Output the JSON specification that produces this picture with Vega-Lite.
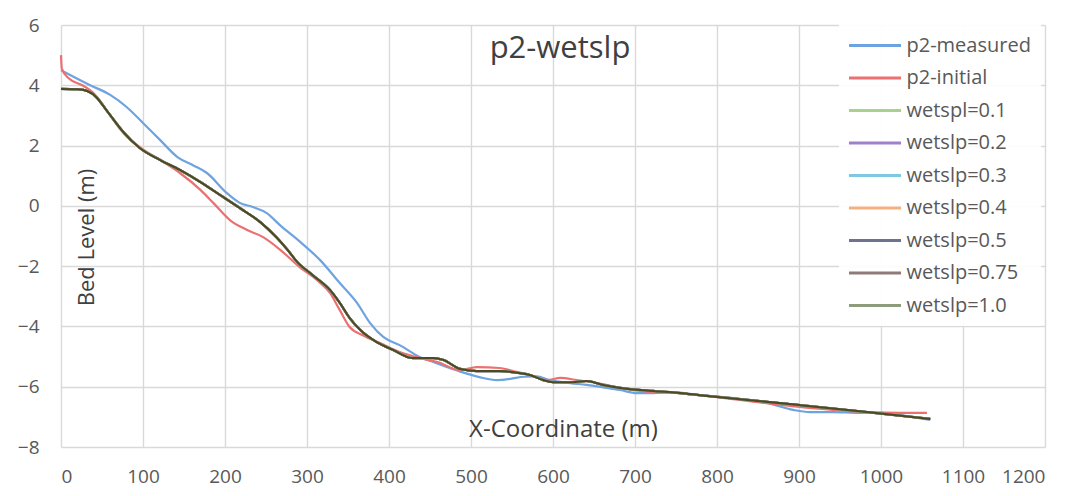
{
 "$schema": "https://vega.github.io/schema/vega-lite/v6.json",
 "width": 984, "height": 422,
 "autosize": {"type": "none"},
 "padding": {"left": 61, "top": 25, "right": 34, "bottom": 49},
 "background": "white",
 "title": {"text": "p2-wetslp", "anchor": "middle", "frame": "group", "baseline": "middle", "offset": 0, "dy": 64, "dx": 7, "fontSize": 31, "fontWeight": "normal", "color": "#404040", "font": "Open Sans"},
 "config": {"view": {"stroke": null}, "font": "Open Sans"},
 "datasets": {
  "curves": [
   {"series":"p2-measured","x":0,"y":4.5},{"series":"p2-measured","x":35,"y":4.01},{"series":"p2-measured","x":60,"y":3.68},{"series":"p2-measured","x":80,"y":3.28},{"series":"p2-measured","x":100,"y":2.75},{"series":"p2-measured","x":121,"y":2.18},{"series":"p2-measured","x":142,"y":1.62},{"series":"p2-measured","x":161,"y":1.35},{"series":"p2-measured","x":178,"y":1.09},{"series":"p2-measured","x":202,"y":0.43},{"series":"p2-measured","x":218,"y":0.1},{"series":"p2-measured","x":234,"y":-0.04},{"series":"p2-measured","x":251,"y":-0.24},{"series":"p2-measured","x":267,"y":-0.64},{"series":"p2-measured","x":291,"y":-1.18},{"series":"p2-measured","x":316,"y":-1.8},{"series":"p2-measured","x":340,"y":-2.56},{"series":"p2-measured","x":361,"y":-3.22},{"series":"p2-measured","x":377,"y":-3.89},{"series":"p2-measured","x":393,"y":-4.35},{"series":"p2-measured","x":413,"y":-4.62},{"series":"p2-measured","x":438,"y":-5.02},{"series":"p2-measured","x":454,"y":-5.18},{"series":"p2-measured","x":471,"y":-5.35},{"series":"p2-measured","x":487,"y":-5.5},{"series":"p2-measured","x":510,"y":-5.68},{"series":"p2-measured","x":532,"y":-5.78},{"series":"p2-measured","x":548,"y":-5.74},{"series":"p2-measured","x":565,"y":-5.67},{"series":"p2-measured","x":580,"y":-5.66},{"series":"p2-measured","x":596,"y":-5.78},{"series":"p2-measured","x":621,"y":-5.88},{"series":"p2-measured","x":641,"y":-5.94},{"series":"p2-measured","x":666,"y":-6.04},{"series":"p2-measured","x":682,"y":-6.11},{"series":"p2-measured","x":702,"y":-6.21},{"series":"p2-measured","x":722,"y":-6.21},{"series":"p2-measured","x":746,"y":-6.18},{"series":"p2-measured","x":779,"y":-6.28},{"series":"p2-measured","x":820,"y":-6.38},{"series":"p2-measured","x":861,"y":-6.54},{"series":"p2-measured","x":893,"y":-6.77},{"series":"p2-measured","x":913,"y":-6.84},{"series":"p2-measured","x":941,"y":-6.84},{"series":"p2-measured","x":974,"y":-6.87},{"series":"p2-measured","x":999,"y":-6.87},{"series":"p2-measured","x":1023,"y":-6.94},{"series":"p2-measured","x":1060,"y":-7.1},
   {"series":"p2-initial","x":0,"y":5.0},{"series":"p2-initial","x":1,"y":4.55},{"series":"p2-initial","x":9,"y":4.24},{"series":"p2-initial","x":26,"y":4.0},{"series":"p2-initial","x":38,"y":3.78},{"series":"p2-initial","x":50,"y":3.4},{"series":"p2-initial","x":60,"y":3.0},{"series":"p2-initial","x":76,"y":2.42},{"series":"p2-initial","x":96,"y":1.95},{"series":"p2-initial","x":121,"y":1.52},{"series":"p2-initial","x":145,"y":1.09},{"series":"p2-initial","x":170,"y":0.53},{"series":"p2-initial","x":186,"y":0.09},{"series":"p2-initial","x":206,"y":-0.47},{"series":"p2-initial","x":227,"y":-0.8},{"series":"p2-initial","x":246,"y":-1.03},{"series":"p2-initial","x":267,"y":-1.45},{"series":"p2-initial","x":291,"y":-2.03},{"series":"p2-initial","x":312,"y":-2.46},{"series":"p2-initial","x":328,"y":-2.89},{"series":"p2-initial","x":340,"y":-3.46},{"series":"p2-initial","x":352,"y":-4.02},{"series":"p2-initial","x":368,"y":-4.29},{"series":"p2-initial","x":389,"y":-4.55},{"series":"p2-initial","x":413,"y":-4.85},{"series":"p2-initial","x":438,"y":-5.05},{"series":"p2-initial","x":459,"y":-5.18},{"series":"p2-initial","x":487,"y":-5.45},{"series":"p2-initial","x":507,"y":-5.35},{"series":"p2-initial","x":535,"y":-5.38},{"series":"p2-initial","x":556,"y":-5.51},{"series":"p2-initial","x":572,"y":-5.61},{"series":"p2-initial","x":593,"y":-5.78},{"series":"p2-initial","x":609,"y":-5.71},{"series":"p2-initial","x":629,"y":-5.78},{"series":"p2-initial","x":654,"y":-5.88},{"series":"p2-initial","x":682,"y":-6.04},{"series":"p2-initial","x":722,"y":-6.18},{"series":"p2-initial","x":755,"y":-6.21},{"series":"p2-initial","x":779,"y":-6.28},{"series":"p2-initial","x":901,"y":-6.67},{"series":"p2-initial","x":983,"y":-6.84},{"series":"p2-initial","x":1056,"y":-6.87},
   {"series":"wetspl=0.1","x":0,"y":3.88},{"series":"wetspl=0.1","x":20,"y":3.87},{"series":"wetspl=0.1","x":32,"y":3.81},{"series":"wetspl=0.1","x":44,"y":3.58},{"series":"wetspl=0.1","x":52,"y":3.3},{"series":"wetspl=0.1","x":60,"y":3.01},{"series":"wetspl=0.1","x":76,"y":2.45},{"series":"wetspl=0.1","x":96,"y":1.92},{"series":"wetspl=0.1","x":121,"y":1.52},{"series":"wetspl=0.1","x":145,"y":1.19},{"series":"wetspl=0.1","x":170,"y":0.79},{"series":"wetspl=0.1","x":194,"y":0.36},{"series":"wetspl=0.1","x":218,"y":-0.07},{"series":"wetspl=0.1","x":243,"y":-0.54},{"series":"wetspl=0.1","x":263,"y":-1.05},{"series":"wetspl=0.1","x":276,"y":-1.45},{"series":"wetspl=0.1","x":288,"y":-1.86},{"series":"wetspl=0.1","x":307,"y":-2.3},{"series":"wetspl=0.1","x":328,"y":-2.79},{"series":"wetspl=0.1","x":340,"y":-3.22},{"series":"wetspl=0.1","x":352,"y":-3.72},{"series":"wetspl=0.1","x":365,"y":-4.12},{"series":"wetspl=0.1","x":385,"y":-4.52},{"series":"wetspl=0.1","x":405,"y":-4.78},{"series":"wetspl=0.1","x":429,"y":-5.05},{"series":"wetspl=0.1","x":454,"y":-5.05},{"series":"wetspl=0.1","x":466,"y":-5.11},{"series":"wetspl=0.1","x":487,"y":-5.41},{"series":"wetspl=0.1","x":507,"y":-5.48},{"series":"wetspl=0.1","x":535,"y":-5.48},{"series":"wetspl=0.1","x":560,"y":-5.55},{"series":"wetspl=0.1","x":572,"y":-5.61},{"series":"wetspl=0.1","x":588,"y":-5.78},{"series":"wetspl=0.1","x":600,"y":-5.85},{"series":"wetspl=0.1","x":624,"y":-5.85},{"series":"wetspl=0.1","x":641,"y":-5.81},{"series":"wetspl=0.1","x":661,"y":-5.94},{"series":"wetspl=0.1","x":682,"y":-6.04},{"series":"wetspl=0.1","x":722,"y":-6.14},{"series":"wetspl=0.1","x":755,"y":-6.21},{"series":"wetspl=0.1","x":779,"y":-6.28},{"series":"wetspl=0.1","x":901,"y":-6.61},{"series":"wetspl=0.1","x":983,"y":-6.84},{"series":"wetspl=0.1","x":1060,"y":-7.07},
   {"series":"wetslp=0.2","x":0,"y":3.88},{"series":"wetslp=0.2","x":20,"y":3.87},{"series":"wetslp=0.2","x":32,"y":3.81},{"series":"wetslp=0.2","x":44,"y":3.58},{"series":"wetslp=0.2","x":52,"y":3.3},{"series":"wetslp=0.2","x":60,"y":3.01},{"series":"wetslp=0.2","x":76,"y":2.45},{"series":"wetslp=0.2","x":96,"y":1.92},{"series":"wetslp=0.2","x":121,"y":1.52},{"series":"wetslp=0.2","x":145,"y":1.19},{"series":"wetslp=0.2","x":170,"y":0.79},{"series":"wetslp=0.2","x":194,"y":0.36},{"series":"wetslp=0.2","x":218,"y":-0.07},{"series":"wetslp=0.2","x":243,"y":-0.54},{"series":"wetslp=0.2","x":263,"y":-1.05},{"series":"wetslp=0.2","x":276,"y":-1.45},{"series":"wetslp=0.2","x":288,"y":-1.86},{"series":"wetslp=0.2","x":307,"y":-2.3},{"series":"wetslp=0.2","x":328,"y":-2.79},{"series":"wetslp=0.2","x":340,"y":-3.22},{"series":"wetslp=0.2","x":352,"y":-3.72},{"series":"wetslp=0.2","x":365,"y":-4.12},{"series":"wetslp=0.2","x":385,"y":-4.52},{"series":"wetslp=0.2","x":405,"y":-4.78},{"series":"wetslp=0.2","x":429,"y":-5.05},{"series":"wetslp=0.2","x":454,"y":-5.05},{"series":"wetslp=0.2","x":466,"y":-5.11},{"series":"wetslp=0.2","x":487,"y":-5.41},{"series":"wetslp=0.2","x":507,"y":-5.48},{"series":"wetslp=0.2","x":535,"y":-5.48},{"series":"wetslp=0.2","x":560,"y":-5.55},{"series":"wetslp=0.2","x":572,"y":-5.61},{"series":"wetslp=0.2","x":588,"y":-5.78},{"series":"wetslp=0.2","x":600,"y":-5.85},{"series":"wetslp=0.2","x":624,"y":-5.85},{"series":"wetslp=0.2","x":641,"y":-5.81},{"series":"wetslp=0.2","x":661,"y":-5.94},{"series":"wetslp=0.2","x":682,"y":-6.04},{"series":"wetslp=0.2","x":722,"y":-6.14},{"series":"wetslp=0.2","x":755,"y":-6.21},{"series":"wetslp=0.2","x":779,"y":-6.28},{"series":"wetslp=0.2","x":901,"y":-6.61},{"series":"wetslp=0.2","x":983,"y":-6.84},{"series":"wetslp=0.2","x":1060,"y":-7.07},
   {"series":"wetslp=0.3","x":0,"y":3.88},{"series":"wetslp=0.3","x":20,"y":3.87},{"series":"wetslp=0.3","x":32,"y":3.81},{"series":"wetslp=0.3","x":44,"y":3.58},{"series":"wetslp=0.3","x":52,"y":3.3},{"series":"wetslp=0.3","x":60,"y":3.01},{"series":"wetslp=0.3","x":76,"y":2.45},{"series":"wetslp=0.3","x":96,"y":1.92},{"series":"wetslp=0.3","x":121,"y":1.52},{"series":"wetslp=0.3","x":145,"y":1.19},{"series":"wetslp=0.3","x":170,"y":0.79},{"series":"wetslp=0.3","x":194,"y":0.36},{"series":"wetslp=0.3","x":218,"y":-0.07},{"series":"wetslp=0.3","x":243,"y":-0.54},{"series":"wetslp=0.3","x":263,"y":-1.05},{"series":"wetslp=0.3","x":276,"y":-1.45},{"series":"wetslp=0.3","x":288,"y":-1.86},{"series":"wetslp=0.3","x":307,"y":-2.3},{"series":"wetslp=0.3","x":328,"y":-2.79},{"series":"wetslp=0.3","x":340,"y":-3.22},{"series":"wetslp=0.3","x":352,"y":-3.72},{"series":"wetslp=0.3","x":365,"y":-4.12},{"series":"wetslp=0.3","x":385,"y":-4.52},{"series":"wetslp=0.3","x":405,"y":-4.78},{"series":"wetslp=0.3","x":429,"y":-5.05},{"series":"wetslp=0.3","x":454,"y":-5.05},{"series":"wetslp=0.3","x":466,"y":-5.11},{"series":"wetslp=0.3","x":487,"y":-5.41},{"series":"wetslp=0.3","x":507,"y":-5.48},{"series":"wetslp=0.3","x":535,"y":-5.48},{"series":"wetslp=0.3","x":560,"y":-5.55},{"series":"wetslp=0.3","x":572,"y":-5.61},{"series":"wetslp=0.3","x":588,"y":-5.78},{"series":"wetslp=0.3","x":600,"y":-5.85},{"series":"wetslp=0.3","x":624,"y":-5.85},{"series":"wetslp=0.3","x":641,"y":-5.81},{"series":"wetslp=0.3","x":661,"y":-5.94},{"series":"wetslp=0.3","x":682,"y":-6.04},{"series":"wetslp=0.3","x":722,"y":-6.14},{"series":"wetslp=0.3","x":755,"y":-6.21},{"series":"wetslp=0.3","x":779,"y":-6.28},{"series":"wetslp=0.3","x":901,"y":-6.61},{"series":"wetslp=0.3","x":983,"y":-6.84},{"series":"wetslp=0.3","x":1060,"y":-7.07},
   {"series":"wetslp=0.4","x":0,"y":3.88},{"series":"wetslp=0.4","x":20,"y":3.87},{"series":"wetslp=0.4","x":32,"y":3.81},{"series":"wetslp=0.4","x":44,"y":3.58},{"series":"wetslp=0.4","x":52,"y":3.3},{"series":"wetslp=0.4","x":60,"y":3.01},{"series":"wetslp=0.4","x":76,"y":2.45},{"series":"wetslp=0.4","x":96,"y":1.92},{"series":"wetslp=0.4","x":121,"y":1.52},{"series":"wetslp=0.4","x":145,"y":1.19},{"series":"wetslp=0.4","x":170,"y":0.79},{"series":"wetslp=0.4","x":194,"y":0.36},{"series":"wetslp=0.4","x":218,"y":-0.07},{"series":"wetslp=0.4","x":243,"y":-0.54},{"series":"wetslp=0.4","x":263,"y":-1.05},{"series":"wetslp=0.4","x":276,"y":-1.45},{"series":"wetslp=0.4","x":288,"y":-1.86},{"series":"wetslp=0.4","x":307,"y":-2.3},{"series":"wetslp=0.4","x":328,"y":-2.79},{"series":"wetslp=0.4","x":340,"y":-3.22},{"series":"wetslp=0.4","x":352,"y":-3.72},{"series":"wetslp=0.4","x":365,"y":-4.12},{"series":"wetslp=0.4","x":385,"y":-4.52},{"series":"wetslp=0.4","x":405,"y":-4.78},{"series":"wetslp=0.4","x":429,"y":-5.05},{"series":"wetslp=0.4","x":454,"y":-5.05},{"series":"wetslp=0.4","x":466,"y":-5.11},{"series":"wetslp=0.4","x":487,"y":-5.41},{"series":"wetslp=0.4","x":507,"y":-5.48},{"series":"wetslp=0.4","x":535,"y":-5.48},{"series":"wetslp=0.4","x":560,"y":-5.55},{"series":"wetslp=0.4","x":572,"y":-5.61},{"series":"wetslp=0.4","x":588,"y":-5.78},{"series":"wetslp=0.4","x":600,"y":-5.85},{"series":"wetslp=0.4","x":624,"y":-5.85},{"series":"wetslp=0.4","x":641,"y":-5.81},{"series":"wetslp=0.4","x":661,"y":-5.94},{"series":"wetslp=0.4","x":682,"y":-6.04},{"series":"wetslp=0.4","x":722,"y":-6.14},{"series":"wetslp=0.4","x":755,"y":-6.21},{"series":"wetslp=0.4","x":779,"y":-6.28},{"series":"wetslp=0.4","x":901,"y":-6.61},{"series":"wetslp=0.4","x":983,"y":-6.84},{"series":"wetslp=0.4","x":1060,"y":-7.07},
   {"series":"wetslp=0.5","x":0,"y":3.88},{"series":"wetslp=0.5","x":20,"y":3.87},{"series":"wetslp=0.5","x":32,"y":3.81},{"series":"wetslp=0.5","x":44,"y":3.58},{"series":"wetslp=0.5","x":52,"y":3.3},{"series":"wetslp=0.5","x":60,"y":3.01},{"series":"wetslp=0.5","x":76,"y":2.45},{"series":"wetslp=0.5","x":96,"y":1.92},{"series":"wetslp=0.5","x":121,"y":1.52},{"series":"wetslp=0.5","x":145,"y":1.19},{"series":"wetslp=0.5","x":170,"y":0.79},{"series":"wetslp=0.5","x":194,"y":0.36},{"series":"wetslp=0.5","x":218,"y":-0.07},{"series":"wetslp=0.5","x":243,"y":-0.54},{"series":"wetslp=0.5","x":263,"y":-1.05},{"series":"wetslp=0.5","x":276,"y":-1.45},{"series":"wetslp=0.5","x":288,"y":-1.86},{"series":"wetslp=0.5","x":307,"y":-2.3},{"series":"wetslp=0.5","x":328,"y":-2.79},{"series":"wetslp=0.5","x":340,"y":-3.22},{"series":"wetslp=0.5","x":352,"y":-3.72},{"series":"wetslp=0.5","x":365,"y":-4.12},{"series":"wetslp=0.5","x":385,"y":-4.52},{"series":"wetslp=0.5","x":405,"y":-4.78},{"series":"wetslp=0.5","x":429,"y":-5.05},{"series":"wetslp=0.5","x":454,"y":-5.05},{"series":"wetslp=0.5","x":466,"y":-5.11},{"series":"wetslp=0.5","x":487,"y":-5.41},{"series":"wetslp=0.5","x":507,"y":-5.48},{"series":"wetslp=0.5","x":535,"y":-5.48},{"series":"wetslp=0.5","x":560,"y":-5.55},{"series":"wetslp=0.5","x":572,"y":-5.61},{"series":"wetslp=0.5","x":588,"y":-5.78},{"series":"wetslp=0.5","x":600,"y":-5.85},{"series":"wetslp=0.5","x":624,"y":-5.85},{"series":"wetslp=0.5","x":641,"y":-5.81},{"series":"wetslp=0.5","x":661,"y":-5.94},{"series":"wetslp=0.5","x":682,"y":-6.04},{"series":"wetslp=0.5","x":722,"y":-6.14},{"series":"wetslp=0.5","x":755,"y":-6.21},{"series":"wetslp=0.5","x":779,"y":-6.28},{"series":"wetslp=0.5","x":901,"y":-6.61},{"series":"wetslp=0.5","x":983,"y":-6.84},{"series":"wetslp=0.5","x":1060,"y":-7.07},
   {"series":"wetslp=0.75","x":0,"y":3.88},{"series":"wetslp=0.75","x":20,"y":3.87},{"series":"wetslp=0.75","x":32,"y":3.81},{"series":"wetslp=0.75","x":44,"y":3.58},{"series":"wetslp=0.75","x":52,"y":3.3},{"series":"wetslp=0.75","x":60,"y":3.01},{"series":"wetslp=0.75","x":76,"y":2.45},{"series":"wetslp=0.75","x":96,"y":1.92},{"series":"wetslp=0.75","x":121,"y":1.52},{"series":"wetslp=0.75","x":145,"y":1.19},{"series":"wetslp=0.75","x":170,"y":0.79},{"series":"wetslp=0.75","x":194,"y":0.36},{"series":"wetslp=0.75","x":218,"y":-0.07},{"series":"wetslp=0.75","x":243,"y":-0.54},{"series":"wetslp=0.75","x":263,"y":-1.05},{"series":"wetslp=0.75","x":276,"y":-1.45},{"series":"wetslp=0.75","x":288,"y":-1.86},{"series":"wetslp=0.75","x":307,"y":-2.3},{"series":"wetslp=0.75","x":328,"y":-2.79},{"series":"wetslp=0.75","x":340,"y":-3.22},{"series":"wetslp=0.75","x":352,"y":-3.72},{"series":"wetslp=0.75","x":365,"y":-4.12},{"series":"wetslp=0.75","x":385,"y":-4.52},{"series":"wetslp=0.75","x":405,"y":-4.78},{"series":"wetslp=0.75","x":429,"y":-5.05},{"series":"wetslp=0.75","x":454,"y":-5.05},{"series":"wetslp=0.75","x":466,"y":-5.11},{"series":"wetslp=0.75","x":487,"y":-5.41},{"series":"wetslp=0.75","x":507,"y":-5.48},{"series":"wetslp=0.75","x":535,"y":-5.48},{"series":"wetslp=0.75","x":560,"y":-5.55},{"series":"wetslp=0.75","x":572,"y":-5.61},{"series":"wetslp=0.75","x":588,"y":-5.78},{"series":"wetslp=0.75","x":600,"y":-5.85},{"series":"wetslp=0.75","x":624,"y":-5.85},{"series":"wetslp=0.75","x":641,"y":-5.81},{"series":"wetslp=0.75","x":661,"y":-5.94},{"series":"wetslp=0.75","x":682,"y":-6.04},{"series":"wetslp=0.75","x":722,"y":-6.14},{"series":"wetslp=0.75","x":755,"y":-6.21},{"series":"wetslp=0.75","x":779,"y":-6.28},{"series":"wetslp=0.75","x":901,"y":-6.61},{"series":"wetslp=0.75","x":983,"y":-6.84},{"series":"wetslp=0.75","x":1060,"y":-7.07},
   {"series":"wetslp=1.0","x":0,"y":3.88},{"series":"wetslp=1.0","x":20,"y":3.87},{"series":"wetslp=1.0","x":32,"y":3.81},{"series":"wetslp=1.0","x":44,"y":3.58},{"series":"wetslp=1.0","x":52,"y":3.3},{"series":"wetslp=1.0","x":60,"y":3.01},{"series":"wetslp=1.0","x":76,"y":2.45},{"series":"wetslp=1.0","x":96,"y":1.92},{"series":"wetslp=1.0","x":121,"y":1.52},{"series":"wetslp=1.0","x":145,"y":1.19},{"series":"wetslp=1.0","x":170,"y":0.79},{"series":"wetslp=1.0","x":194,"y":0.36},{"series":"wetslp=1.0","x":218,"y":-0.07},{"series":"wetslp=1.0","x":243,"y":-0.54},{"series":"wetslp=1.0","x":263,"y":-1.05},{"series":"wetslp=1.0","x":276,"y":-1.45},{"series":"wetslp=1.0","x":288,"y":-1.86},{"series":"wetslp=1.0","x":307,"y":-2.3},{"series":"wetslp=1.0","x":328,"y":-2.79},{"series":"wetslp=1.0","x":340,"y":-3.22},{"series":"wetslp=1.0","x":352,"y":-3.72},{"series":"wetslp=1.0","x":365,"y":-4.12},{"series":"wetslp=1.0","x":385,"y":-4.52},{"series":"wetslp=1.0","x":405,"y":-4.78},{"series":"wetslp=1.0","x":429,"y":-5.05},{"series":"wetslp=1.0","x":454,"y":-5.05},{"series":"wetslp=1.0","x":466,"y":-5.11},{"series":"wetslp=1.0","x":487,"y":-5.41},{"series":"wetslp=1.0","x":507,"y":-5.48},{"series":"wetslp=1.0","x":535,"y":-5.48},{"series":"wetslp=1.0","x":560,"y":-5.55},{"series":"wetslp=1.0","x":572,"y":-5.61},{"series":"wetslp=1.0","x":588,"y":-5.78},{"series":"wetslp=1.0","x":600,"y":-5.85},{"series":"wetslp=1.0","x":624,"y":-5.85},{"series":"wetslp=1.0","x":641,"y":-5.81},{"series":"wetslp=1.0","x":661,"y":-5.94},{"series":"wetslp=1.0","x":682,"y":-6.04},{"series":"wetslp=1.0","x":722,"y":-6.14},{"series":"wetslp=1.0","x":755,"y":-6.21},{"series":"wetslp=1.0","x":779,"y":-6.28},{"series":"wetslp=1.0","x":901,"y":-6.61},{"series":"wetslp=1.0","x":983,"y":-6.84},{"series":"wetslp=1.0","x":1060,"y":-7.07}
  ]
 },
 "layer": [
  {
   "data": {"name": "curves"},
   "mark": {"type": "line", "interpolate": "monotone", "strokeWidth": 2.2},
   "encoding": {
    "x": {"field": "x", "type": "quantitative", "scale": {"domain": [0, 1200], "nice": false, "zero": false},
      "axis": {"values": [0,100,200,300,400,500,600,700,800,900,1000,1100,1200], "format": "d", "title": "X-Coordinate (m)", "domain": false, "ticks": false, "grid": true, "gridColor": "#d9d9d9", "gridWidth": 1.4, "labelFontSize": 19, "labelColor": "#595959", "labelPadding": 20, "labelFont": "Open Sans", "titleFont": "Open Sans", "titleFontSize": 24, "titleFontWeight": "normal", "titleColor": "#404040", "titleX": 502, "titleY": -18, "titleBaseline": "middle", "titleAlign": "center"}},
    "y": {"field": "y", "type": "quantitative", "scale": {"domain": [-8, 6], "nice": false, "zero": false},
      "axis": {"values": [-8,-6,-4,-2,0,2,4,6], "title": "Bed Level (m)", "domain": false, "ticks": false, "grid": true, "gridColor": "#d9d9d9", "gridWidth": 1.4, "labelFontSize": 19, "labelColor": "#595959", "labelPadding": 22, "labelFont": "Open Sans", "titleFont": "Open Sans", "titleFontSize": 22, "titleFontWeight": "normal", "titleColor": "#404040", "titleX": 25, "titleY": 212, "titleAngle": -90, "titleBaseline": "middle", "titleAlign": "center"}},
    "color": {"field": "series", "type": "nominal",
      "scale": {"domain": ["p2-measured","p2-initial","wetspl=0.1","wetslp=0.2","wetslp=0.3","wetslp=0.4","wetslp=0.5","wetslp=0.75","wetslp=1.0"],
                "range": ["#6ea3e2","#ec7070","#a9d18e","#9e80cc","#7fc8e3","#f6b07e","#707090","#8f7a7a","#8c9c7c"]},
      "legend": {"orient": "none", "legendX": 778, "legendY": -1, "title": null, "symbolType": "M-2.6,0H2.6", "symbolSize": 400, "symbolStrokeWidth": 3, "symbolOffset": 14.5, "labelOffset": 20, "labelFontSize": 20, "labelFont": "Open Sans", "labelColor": "#595959", "rowPadding": 10.5, "padding": 10, "fillColor": "rgba(255,255,255,0.9)", "labelLimit": 300}},
    "strokeWidth": {"condition": {"test": "datum.series === 'p2-measured' || datum.series === 'p2-initial'", "value": 2}, "value": 3.4}
   }
  },
  {
   "data": {"name": "curves"},
   "transform": [{"filter": "datum.series === 'wetslp=1.0'"}],
   "mark": {"type": "line", "interpolate": "monotone", "strokeWidth": 2, "color": "#4b4a22"},
   "encoding": {
    "x": {"field": "x", "type": "quantitative"},
    "y": {"field": "y", "type": "quantitative"}
   }
  },
  {
   "mark": {"type": "rule", "strokeDash": [9, 8.5], "color": "#c4c4c4", "strokeWidth": 2.5},
   "encoding": {"y": {"datum": 0, "type": "quantitative"}}
  }
 ]
}
